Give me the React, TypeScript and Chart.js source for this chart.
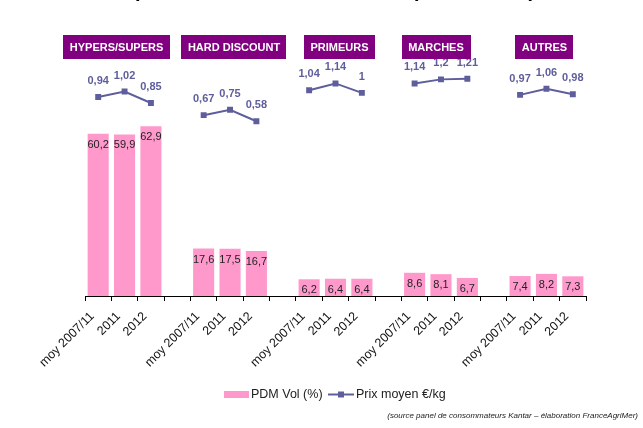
import React, { useEffect, useRef } from "react";
import { Chart, registerables } from "chart.js";

Chart.register(...registerables);

const categories = [
  "moy 2007/11", "2011", "2012", "",
  "moy 2007/11", "2011", "2012", "",
  "moy 2007/11", "2011", "2012", "",
  "moy 2007/11", "2011", "2012", "",
  "moy 2007/11", "2011", "2012",
];
const pdmVol = [
  60.2, 59.9, 62.9, null,
  17.6, 17.5, 16.7, null,
  6.2, 6.4, 6.4, null,
  8.6, 8.1, 6.7, null,
  7.4, 8.2, 7.3,
];
const prixMoyen = [
  0.94, 1.02, 0.85, null,
  0.67, 0.75, 0.58, null,
  1.04, 1.14, 1, null,
  1.14, 1.2, 1.21, null,
  0.97, 1.06, 0.98,
];
const groups = ["HYPERS/SUPERS", "HARD DISCOUNT", "PRIMEURS", "MARCHES", "AUTRES"];
const seriesNames = ["PDM Vol (%)", "Prix moyen €/kg"];
const titleText = "Les parts de marché des circuits (en volumes)";
const sourceText = "(source panel de consommateurs Kantar – élaboration FranceAgriMer)";

const FONT = "'Liberation Sans', Arial, sans-serif";
const PINK = "#ff99cc";
const LINE = "#5e5e9c";
const PURPLE = "#800080";
const headerShift = [-8, 4, 4, -5, -2];

const fmt = (v: number) => String(v).replace(".", ",");

const overlay = {
  id: "overlay",
  afterDatasetsDraw(chart: any) {
    const ctx = chart.ctx;
    ctx.save();
    const barMeta = chart.getDatasetMeta(1);
    ctx.font = `11px ${FONT}`;
    ctx.fillStyle = "#222";
    ctx.textAlign = "center";
    ctx.textBaseline = "middle";
    barMeta.data.forEach((el: any, i: number) => {
      const v = pdmVol[i];
      if (v == null) return;
      ctx.fillText(fmt(v), el.x, el.y + 11);
    });
    const lineMeta = chart.getDatasetMeta(0);
    ctx.font = `bold 11px ${FONT}`;
    ctx.fillStyle = LINE;
    lineMeta.data.forEach((el: any, i: number) => {
      const v = prixMoyen[i];
      if (v == null) return;
      ctx.fillText(fmt(v), el.x, el.y - 16);
    });
    ctx.restore();
  },
  afterDraw(chart: any) {
    const ctx = chart.ctx;
    const xs = chart.scales.x;
    ctx.save();
    // title (cut off at the top edge)
    ctx.font = `bold 20px ${FONT}`;
    ctx.fillStyle = "#000";
    ctx.textAlign = "left";
    ctx.textBaseline = "alphabetic";
    ctx.fillText(titleText, 95, -3.5);
    // group headers
    ctx.font = `bold 11px ${FONT}`;
    ctx.textAlign = "center";
    ctx.textBaseline = "middle";
    groups.forEach((g, gi) => {
      const cx = xs.getPixelForValue(gi * 4 + 1) + headerShift[gi];
      const w = ctx.measureText(g).width + 13;
      ctx.fillStyle = PURPLE;
      ctx.fillRect(Math.round(cx - w / 2), 35, Math.round(w), 24);
      ctx.fillStyle = "#fff";
      ctx.fillText(g, cx, 47.5);
    });
    // legend
    const ly = 394.5;
    ctx.fillStyle = PINK;
    ctx.fillRect(224, ly - 3.5, 25, 7);
    ctx.font = `12.5px ${FONT}`;
    ctx.fillStyle = "#222";
    ctx.textAlign = "left";
    ctx.fillText(seriesNames[0], 251, ly);
    ctx.strokeStyle = LINE;
    ctx.lineWidth = 2;
    ctx.beginPath();
    ctx.moveTo(328, ly);
    ctx.lineTo(354, ly);
    ctx.stroke();
    ctx.fillStyle = LINE;
    ctx.fillRect(338, ly - 3, 6, 6);
    ctx.fillStyle = "#222";
    ctx.fillText(seriesNames[1], 356, ly);
    // source
    ctx.font = `italic 8px ${FONT}`;
    ctx.textAlign = "right";
    ctx.fillText(sourceText, 638, 416);
    ctx.restore();
  },
};

export default function App() {
  const ref = useRef<HTMLCanvasElement>(null);
  useEffect(() => {
    if (!ref.current) return;
    Chart.defaults.font.family = FONT;
    const chart = new Chart(ref.current, {
      type: "bar",
      data: {
        labels: categories,
        datasets: [
          {
            type: "line",
            label: seriesNames[1],
            data: prixMoyen as any,
            yAxisID: "y2",
            borderColor: LINE,
            backgroundColor: LINE,
            borderWidth: 2,
            pointStyle: "rect",
            pointRadius: 4.2,
            pointBorderWidth: 0,
            spanGaps: false,
            order: 0,
          } as any,
          {
            type: "bar",
            label: seriesNames[0],
            data: pdmVol as any,
            yAxisID: "y",
            backgroundColor: PINK,
            barPercentage: 0.8,
            categoryPercentage: 1.0,
            order: 1,
          } as any,
        ],
      },
      options: {
        responsive: false,
        animation: false,
        devicePixelRatio: 1,
        layout: { padding: { left: 85, right: 57, top: 60, bottom: 0 } },
        plugins: { legend: { display: false }, tooltip: { enabled: false }, title: { display: false } },
        scales: {
          x: {
            offset: true,
            grid: {
              offset: true,
              drawOnChartArea: false,
              drawTicks: true,
              tickLength: 5,
              color: "#000",
            },
            border: { display: true, color: "#000", width: 1 },
            ticks: {
              font: { size: 12.5, family: FONT },
              color: "#111",
              minRotation: 45,
              maxRotation: 45,
              autoSkip: false,
              padding: 8,
              labelOffset: -6,
            },
            afterFit(scale: any) {
              scale.height = 132;
            },
          },
          y: { display: false, min: 0, max: 87.5 },
          y2: { display: false, min: -2.009, max: 1.487 },
        },
      } as any,
      plugins: [overlay],
    });
    return () => chart.destroy();
  }, []);
  return (
    <div style={{ position: "fixed", left: 0, top: 0, width: 643, height: 428, background: "#fff" }}>
      <canvas ref={ref} width={643} height={428} style={{ display: "block" }} />
    </div>
  );
}
